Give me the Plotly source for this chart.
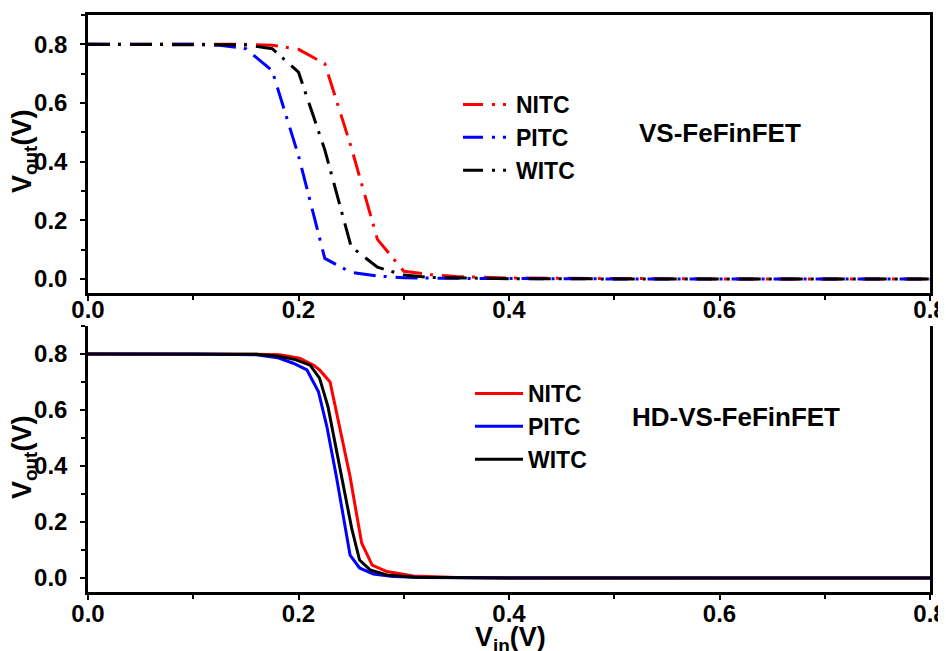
import plotly.graph_objects as go

# ---------------- data ----------------
# Top panel: VS-FeFinFET (dash-dot curves)
vin_top_nitc = [0.0, 0.1, 0.15, 0.175, 0.2, 0.225, 0.25, 0.275, 0.3, 0.325, 0.35, 0.4, 0.5, 0.6, 0.7, 0.8]
vout_top_nitc = [0.8, 0.8, 0.8, 0.797, 0.783, 0.734, 0.45, 0.135, 0.026, 0.015, 0.008, 0.003, 0.001, 0.0, 0.0, 0.0]

vin_top_pitc = [0.0, 0.1, 0.125, 0.15, 0.175, 0.2, 0.225, 0.25, 0.275, 0.3, 0.35, 0.4, 0.5, 0.6, 0.7, 0.8]
vout_top_pitc = [0.8, 0.8, 0.797, 0.785, 0.71, 0.42, 0.07, 0.022, 0.01, 0.004, 0.002, 0.001, 0.0, 0.0, 0.0, 0.0]

vin_top_witc = [0.0, 0.1, 0.15, 0.175, 0.2, 0.225, 0.25, 0.275, 0.3, 0.325, 0.35, 0.4, 0.5, 0.6, 0.7, 0.8]
vout_top_witc = [0.8, 0.8, 0.798, 0.785, 0.705, 0.44, 0.11, 0.04, 0.013, 0.005, 0.003, 0.001, 0.0, 0.0, 0.0, 0.0]

# Bottom panel: HD-VS-FeFinFET (solid curves)
vin_bot_nitc = [0.0, 0.1, 0.16, 0.182, 0.201, 0.214, 0.22, 0.23, 0.239, 0.249, 0.255, 0.26, 0.27, 0.284, 0.309, 0.35, 0.4, 0.5, 0.6, 0.7, 0.8]
vout_bot_nitc = [0.8, 0.8, 0.799, 0.797, 0.785, 0.761, 0.743, 0.70, 0.54, 0.362, 0.232, 0.125, 0.046, 0.023, 0.007, 0.002, 0.001, 0.0, 0.0, 0.0, 0.0]

vin_bot_pitc = [0.0, 0.1, 0.16, 0.18, 0.195, 0.208, 0.219, 0.227, 0.236, 0.243, 0.249, 0.258, 0.271, 0.29, 0.32, 0.4, 0.5, 0.6, 0.7, 0.8]
vout_bot_pitc = [0.8, 0.8, 0.797, 0.787, 0.767, 0.743, 0.665, 0.54, 0.362, 0.207, 0.082, 0.036, 0.014, 0.005, 0.002, 0.0, 0.0, 0.0, 0.0, 0.0]

vin_bot_witc = [0.0, 0.1, 0.16, 0.18, 0.197, 0.211, 0.22, 0.228, 0.236, 0.244, 0.2505, 0.258, 0.268, 0.284, 0.31, 0.4, 0.5, 0.6, 0.7, 0.8]
vout_bot_witc = [0.8, 0.8, 0.799, 0.793, 0.78, 0.76, 0.714, 0.612, 0.457, 0.29, 0.178, 0.064, 0.029, 0.011, 0.003, 0.0, 0.0, 0.0, 0.0, 0.0]

series_names = ["NITC", "PITC", "WITC"]
series_colors = ["#FF0000", "#0000FF", "#000000"]

x_tick_vals = [0.0, 0.2, 0.4, 0.6, 0.8]
y_tick_vals = [0.0, 0.2, 0.4, 0.6, 0.8]

top_label = "VS-FeFinFET"
bottom_label = "HD-VS-FeFinFET"

# ---------------- figure ----------------
FONT = "Liberation Sans, Arial, sans-serif"
W, H = 946, 651
OFF = 8  # page body margin: screen pixel = figure pixel + 8
ML = 88 - OFF
PR = 930 - OFF
MR = W - PR
PW = PR - ML


def px_x(p):
    return (p - OFF - ML) / PW


def px_y(p):
    return 1 - (p - OFF) / H


fig = go.Figure()

top_sets = [(vin_top_nitc, vout_top_nitc), (vin_top_pitc, vout_top_pitc), (vin_top_witc, vout_top_witc)]
bot_sets = [(vin_bot_nitc, vout_bot_nitc), (vin_bot_pitc, vout_bot_pitc), (vin_bot_witc, vout_bot_witc)]

for name, col, (xs, ys) in zip(series_names, series_colors, top_sets):
    fig.add_trace(go.Scatter(x=xs, y=ys, mode="lines", name=name, showlegend=False,
                             line=dict(color=col, width=3, dash="22px,8px,3px,9px"),
                             xaxis="x", yaxis="y"))
    # legend entry with a dash pattern sized for the legend sample
    fig.add_trace(go.Scatter(x=[None], y=[None], mode="lines", name=name, legend="legend",
                             line=dict(color=col, width=3, dash="20px,9px,3px,8px,3px,20px"),
                             xaxis="x", yaxis="y"))

for name, col, (xs, ys) in zip(series_names, series_colors, bot_sets):
    fig.add_trace(go.Scatter(x=xs, y=ys, mode="lines", name=name, legend="legend2",
                             line=dict(color=col, width=3),
                             xaxis="x2", yaxis="y2"))

axis_common = dict(
    showline=True, linecolor="black", linewidth=2.5,
    ticks="outside", ticklen=5, tickwidth=2, tickcolor="black",
    showgrid=False, zeroline=False,
    tickfont=dict(family=FONT, size=24, color="black", weight="bold"),
    minor=dict(ticks="outside", ticklen=4, tickwidth=2, tickcolor="black", dtick=0.1, showgrid=False),
    automargin=False,
)

top_dom = [px_y(293), px_y(15)]
bot_dom = [px_y(592), px_y(326)]

LEG_FONT = dict(family=FONT, size=23, color="black", weight="bold")
TXT_FONT = dict(family=FONT, size=26, color="black", weight="bold")
TTL_FONT = dict(family=FONT, size=27, color="black", weight="bold")

fig.update_layout(
    width=W, height=H,
    margin=dict(l=ML, r=MR, t=0, b=0),
    paper_bgcolor="white", plot_bgcolor="white",
    xaxis=dict(domain=[0, 1], anchor="y", range=[0, 0.8], tickvals=x_tick_vals,
               tickformat=".1f", mirror=True, ticklabelstandoff=-12, **axis_common),
    yaxis=dict(domain=top_dom, anchor="x", range=[-0.048, 0.9], tickvals=y_tick_vals,
               tickformat=".1f", mirror=True, ticklabelstandoff=8, **axis_common),
    xaxis2=dict(domain=[0, 1], anchor="y2", range=[0, 0.8], tickvals=x_tick_vals,
                tickformat=".1f", mirror=False, ticklabelstandoff=-7, **axis_common),
    yaxis2=dict(domain=bot_dom, anchor="x2", range=[-0.05, 0.9], tickvals=y_tick_vals,
                tickformat=".1f", mirror=True, ticklabelstandoff=8, **axis_common),
    legend=dict(x=px_x(458), y=px_y(83), xanchor="left", yanchor="top",
                bgcolor="rgba(0,0,0,0)", itemwidth=48, tracegroupgap=0, font=LEG_FONT),
    legend2=dict(x=px_x(470), y=px_y(372), xanchor="left", yanchor="top",
                 bgcolor="rgba(0,0,0,0)", itemwidth=48, tracegroupgap=0, font=LEG_FONT),
    annotations=[
        dict(text=top_label, x=px_x(637), y=px_y(133), xref="paper", yref="paper",
             xanchor="left", yanchor="middle", showarrow=False, font=TXT_FONT),
        dict(text=bottom_label, x=px_x(630), y=px_y(417), xref="paper", yref="paper",
             xanchor="left", yanchor="middle", showarrow=False, font=TXT_FONT),
        dict(text="V<sub>out</sub>(V)", x=px_x(24), y=px_y(152), xref="paper", yref="paper",
             xanchor="center", yanchor="middle", showarrow=False, textangle=-90, font=TTL_FONT),
        dict(text="V<sub>out</sub>(V)", x=px_x(24), y=px_y(458), xref="paper", yref="paper",
             xanchor="center", yanchor="middle", showarrow=False, textangle=-90, font=TTL_FONT),
        dict(text="V<sub>in</sub>(V)", x=px_x(510), y=px_y(639), xref="paper", yref="paper",
             xanchor="center", yanchor="middle", showarrow=False, font=TTL_FONT),
    ],
)

fig.write_html("out.html")
